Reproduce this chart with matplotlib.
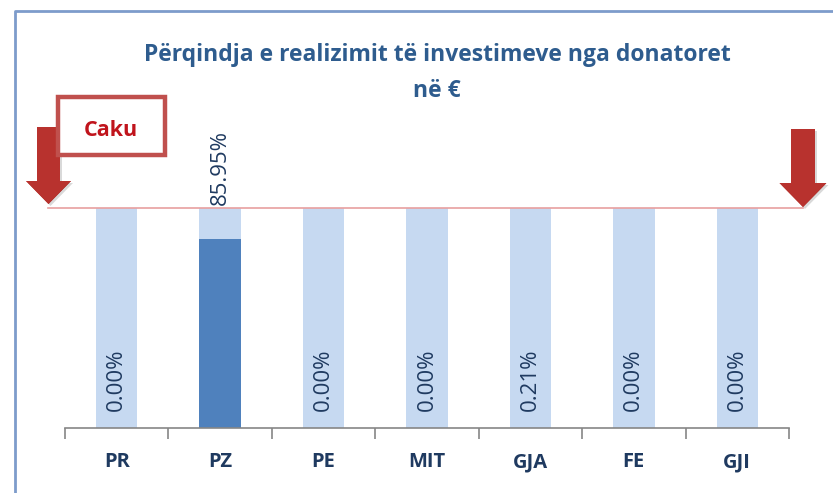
import numpy as np
import matplotlib
matplotlib.use("Agg")
import matplotlib.pyplot as plt
from matplotlib.patches import Polygon, Rectangle
from matplotlib.lines import Line2D
from matplotlib.colors import LinearSegmentedColormap

categories = ["PR", "PZ", "PE", "MIT", "GJA", "FE", "GJI"]
values = [0.00, 85.95, 0.00, 0.00, 0.21, 0.00, 0.00]
target = [100, 100, 100, 100, 100, 100, 100]
title_line1 = "Përqindja e realizimit të investimeve nga donatoret"
title_line2 = "në €"
target_label = "Caku"

W, H = 833, 493
plt.rcParams['font.family'] = ['Open Sans', 'DejaVu Sans']
fig = plt.figure(figsize=(W / 100, H / 100), dpi=100)

def fx(x):
    return x / W

def fy(y):
    return 1 - y / H

# main axes: x 65..789, baseline y 428, top y 130 (pixel coords)
ax_left, ax_right, ax_bottom, ax_top = 65, 789, 428, 130
ax = fig.add_axes([fx(ax_left), fy(ax_bottom), (ax_right - ax_left) / W, (ax_bottom - ax_top) / H])
ymax = 100 * (ax_bottom - ax_top) / (ax_bottom - 208)
ax.set_ylim(0, ymax)
ax.set_xlim(-0.5, len(categories) - 0.5)

x = np.arange(len(categories))
light = "#C6D9F1"
dark = "#4F81BD"
ax.bar(x, target, width=0.4, color=light, zorder=1)
ax.bar(x, values, width=0.4, color=dark, zorder=2)

label_color = "#1F3A60"
for xi, v in zip(x, values):
    txt = f"{v:.2f}%"
    if v > 50:
        ax.text(xi, 101.5, txt, rotation=90, ha="center", va="bottom",
                fontsize=16, color=label_color, zorder=5, clip_on=False)
    else:
        ax.text(xi, 22, txt, rotation=90, ha="center", va="center",
                fontsize=16, color=label_color, zorder=5)

for s in ["left", "right", "top"]:
    ax.spines[s].set_visible(False)
ax.spines["bottom"].set_color("#868686")
ax.spines["bottom"].set_linewidth(1.2)
ax.set_yticks([])
ax.set_xticks(np.arange(-0.5, len(categories) + 0.5, 1))
ax.set_xticklabels([])
ax.tick_params(axis="x", length=8, color="#868686", width=1.2, direction="out")
for xi, c in zip(x, categories):
    ax.text(xi, -0.115, c, transform=ax.get_xaxis_transform(), ha="center", va="center",
            fontsize=14.5, fontweight="bold", color="#1F3A60")

# overlay axes in pixel coordinates for decorations
ov = fig.add_axes([0, 0, 1, 1], zorder=10)
ov.set_xlim(0, W)
ov.set_ylim(H, 0)
ov.set_axis_off()
ov.patch.set_alpha(0)

# target line at 100%
ov.add_line(Line2D([48, 803], [208, 208], color="#E8A0A0", linewidth=1.2))

# title
ov.text(437, 55, title_line1, ha="center", va="center", fontsize=16.5,
        fontweight="bold", color="#2E5C8E")
ov.text(437, 91, title_line2, ha="center", va="center", fontsize=16.5,
        fontweight="bold", color="#2E5C8E")

# frame
ov.add_line(Line2D([15, 15, W], [H, 11, 11], color="#7D9CCB", linewidth=2))

cmap = LinearSegmentedColormap.from_list("g", ["#D9534E", "#C0392F", "#9A2622"])

def arrow(cx, top, shaft_w, head_w, head_y, tip_y):
    pts = [(cx - shaft_w / 2, top), (cx + shaft_w / 2, top), (cx + shaft_w / 2, head_y),
           (cx + head_w / 2, head_y), (cx, tip_y), (cx - head_w / 2, head_y),
           (cx - shaft_w / 2, head_y)]
    shadow = Polygon([(px + 2, py + 2) for px, py in pts], closed=True,
                     facecolor="#000000", alpha=0.15, edgecolor="none")
    ov.add_patch(shadow)
    poly = Polygon(pts, closed=True, facecolor="#B8322E", edgecolor="none")
    ov.add_patch(poly)
    grad = np.linspace(0, 1, 64).reshape(1, -1)
    im = ov.imshow(grad, cmap=cmap, aspect="auto", interpolation="bilinear",
                   extent=(cx - head_w / 2, cx + head_w / 2, tip_y, top))
    im.set_clip_path(poly)

arrow(48.5, 127, 23, 45, 181, 204)
arrow(803, 129, 24, 47, 183, 207)
ov.set_xlim(0, W)
ov.set_ylim(H, 0)

# Caku box
ov.add_patch(Rectangle((60, 99), 107, 58, facecolor="#000000", alpha=0.12, edgecolor="none"))
ov.add_patch(Rectangle((58, 97), 107, 58, facecolor="white", edgecolor="#C0504D", linewidth=3.2))
ov.text(111, 131, target_label, ha="center", va="center", fontsize=15.5,
        fontweight="bold", color="#C0141C")

fig.savefig("out.png", dpi=100)
